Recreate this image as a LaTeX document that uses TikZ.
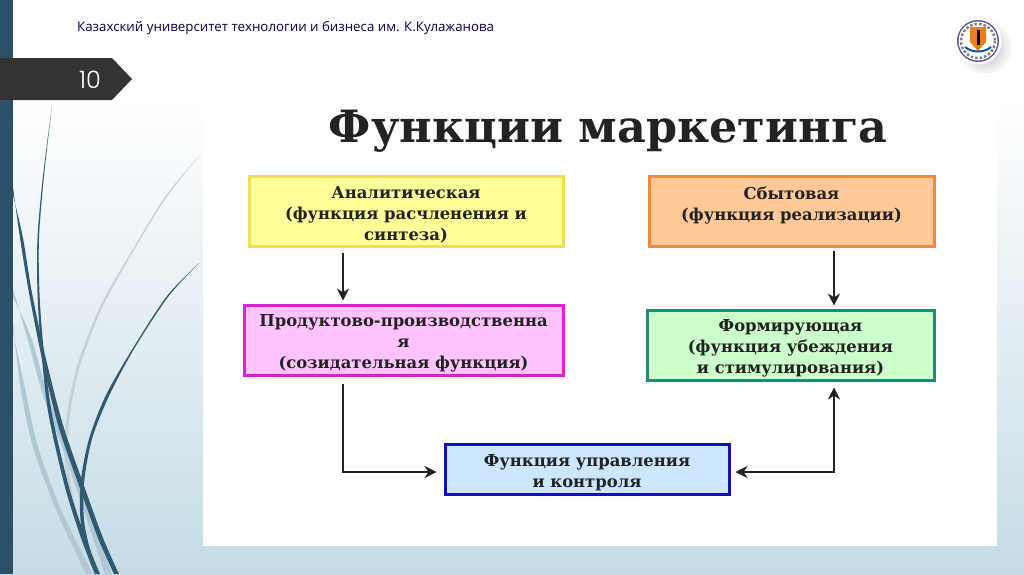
\documentclass[tikz,border=0pt]{standalone}
\usepackage{fontspec}
\setmainfont{DejaVu Serif}
\newfontfamily\headfont{Open Sans}
\newfontfamily\numfont{Poppins Light}
\usetikzlibrary{arrows.meta,shapes.geometric}
\definecolor{barblue}{HTML}{2C5068}
\definecolor{bgblue}{HTML}{C5DCE5}
\definecolor{curvedark}{HTML}{2F5A72}
\definecolor{curvegrey}{HTML}{C6D2D8}
\definecolor{curvepale}{HTML}{AFC8D3}
\definecolor{tagdark}{HTML}{333333}
\definecolor{yelb}{HTML}{F2DC5A}\definecolor{yelf}{HTML}{FFFF99}
\definecolor{orab}{HTML}{EE8A3C}\definecolor{oraf}{HTML}{FFC896}
\definecolor{pinb}{HTML}{E020D0}\definecolor{pinf}{HTML}{FFC4FF}
\definecolor{greb}{HTML}{1E8C7C}\definecolor{gref}{HTML}{CCFFCC}
\definecolor{blub}{HTML}{1212B0}\definecolor{bluf}{HTML}{CCE6FF}
\definecolor{inkc}{HTML}{222222}
\newcommand{\downstrut}{\rule{0pt}{19pt}}
\tikzset{
  x=1pt,y=-1pt,
  fnbox/.style={draw=#1,line width=3pt,inner sep=0pt,align=center,font=\bfseries\fontsize{16.4}{21}\selectfont,text=inkc},
  conn/.style={line width=2.4pt,draw=inkc,-{Stealth[length=12pt,width=12pt]}},
  connboth/.style={line width=2.4pt,draw=inkc,{Stealth[length=12pt,width=12pt]}-{Stealth[length=12pt,width=12pt]}},
}
\begin{document}
\begin{tikzpicture}
\useasboundingbox (0,0) rectangle (1024,574);
\fill[white] (0,0) rectangle (1024,100);
\shade[top color=white,bottom color=bgblue,shading angle=0] (0,100) rectangle (1024,574);
% curves
\fill[curvegrey] plot[smooth] coordinates {(203,152) (167,194) (133,249) (100,307) (77,366) (67,414) (64,450) (70,500) (93,574)}
  -- plot[smooth] coordinates {(98,574) (74,500) (68,450) (70,414) (80,366) (102,308) (134,250) (168,195) (203,152)} -- cycle;
\fill[curvepale] plot[smooth] coordinates {(13,289) (27,337) (43,395) (67,461) (105,574)}
  -- plot[smooth] coordinates {(112,574) (72,461) (48,395) (31,337) (13,297)} -- cycle;
\fill[curvepale] plot[smooth] coordinates {(13,322) (20,384) (33,447) (57,512) (86,574)}
  -- plot[smooth] coordinates {(93,574) (62,512) (38,447) (24,384) (13,332)} -- cycle;
\fill[curvedark] plot[smooth] coordinates {(52,106) (43,176) (37.5,238) (37.5,293) (41,348) (48.5,414) (65,487) (81,538) (95,574)}
  -- plot[smooth] coordinates {(100,574) (85.5,538) (69,487) (52,414) (43.5,348) (39.5,293) (39,238) (44,176) (52,106)} -- cycle;
\fill[curvedark] plot[smooth] coordinates {(13,187) (20,238) (29,293) (42,359) (58,425) (78,483) (98,538) (114,574)}
  -- plot[smooth] coordinates {(119,574) (103,538) (83,483) (63,425) (46,359) (32,293) (23,238) (13,195)} -- cycle;
\fill[curvedark] plot[smooth] coordinates {(199,263) (167,296) (133,348) (106,395) (89,439) (80.5,483) (80.5,520) (86,549) (95,574)}
  -- plot[smooth] coordinates {(99,574) (90,549) (84,520) (84,483) (92,439) (109,396) (134,349) (168,297) (199,263)} -- cycle;
% left bar and tag
\fill[barblue] (0,0) rectangle (13,574);
\fill[tagdark] (0,58) -- (112,58) -- (132,79) -- (112,100) -- (0,100) -- cycle;
\node[text=white,font=\numfont\fontsize{24}{24}\selectfont,inner sep=0pt] (num) at (90,80) {10};
% header
\node[anchor=west,inner sep=0pt,text=blue!30!black,font=\headfont\fontsize{13.3}{15}\selectfont] (head) at (77,28) {Казахский университет технологии и бизнеса им. К.Кулажанова};
% logo
\shade[inner color=black!30,outer color=white] (984,47) circle (29);
\fill[white] (978,41) circle (23.5);
\fill[black!25!blue!30!gray] (978,41) circle (21);
\fill[white] (978,41) circle (19.5);
\draw[black!50,line width=2.5pt,dotted] (978,41) circle (17);
\fill[orange!70!brown] (970,27) -- (986,27) -- (986,42) -- (978,51) -- (970,42) -- cycle;
\fill[blue!40!black] (976.5,30) rectangle (979.5,45);
\draw[teal!70!blue,line width=2pt] (965,47) .. controls (972,53) and (984,53) .. (991,47);
% picture panel
\fill[white] (203,73) rectangle (997,546);
\node[inner sep=0pt,font=\bfseries\fontsize{44.5}{48}\selectfont,text=inkc] (title) at (608,131) {Функции маркетинга};
% boxes
\node[fnbox=yelb,fill=yelf,minimum width=314pt,minimum height=70pt] (ana) at (406,211) {\downstrut Аналитическая\\(функция расчленения и\\синтеза)};
\node[fnbox=orab,fill=oraf,minimum width=285pt,minimum height=70pt] (sbyt) at (791.5,211) {\downstrut Сбытовая\\(функция реализации)\\ };
\node[fnbox=pinb,fill=pinf,minimum width=319pt,minimum height=70pt] (prod) at (403.5,340) {\downstrut Продуктово-производственна\\я\\(созидательная функция)};
\node[fnbox=greb,fill=gref,minimum width=287pt,minimum height=70pt] (form) at (790.5,345) {\downstrut Формирующая\\(функция убеждения\\и стимулирования)};
\node[fnbox=blub,fill=bluf,minimum width=284pt,minimum height=50pt] (ctrl) at (587,469) {\downstrut Функция управления\\и контроля};
% connector anchors
\coordinate (a1) at ([xshift=-63pt,yshift=-5pt]ana.south);
\coordinate (a2) at ([xshift=-60.5pt,yshift=3pt]prod.north);
\coordinate (b1) at ([xshift=42.5pt,yshift=-3pt]sbyt.south);
\coordinate (b2) at ([xshift=43.5pt,yshift=3pt]form.north);
\coordinate (c1) at ([xshift=-60.5pt,yshift=-7pt]prod.south);
\coordinate (c2) at ([xshift=-7pt,yshift=-3pt]ctrl.west);
\coordinate (d1) at ([xshift=5pt,yshift=-3pt]ctrl.east);
\coordinate (d2) at ([xshift=43.5pt,yshift=-6pt]form.south);
\draw[conn] (a1) -- (a2);
\draw[conn] (b1) -- (b2);
\draw[conn] (c1) |- (c2);
\draw[connboth] (d1) -| (d2);
\end{tikzpicture}
\end{document}
